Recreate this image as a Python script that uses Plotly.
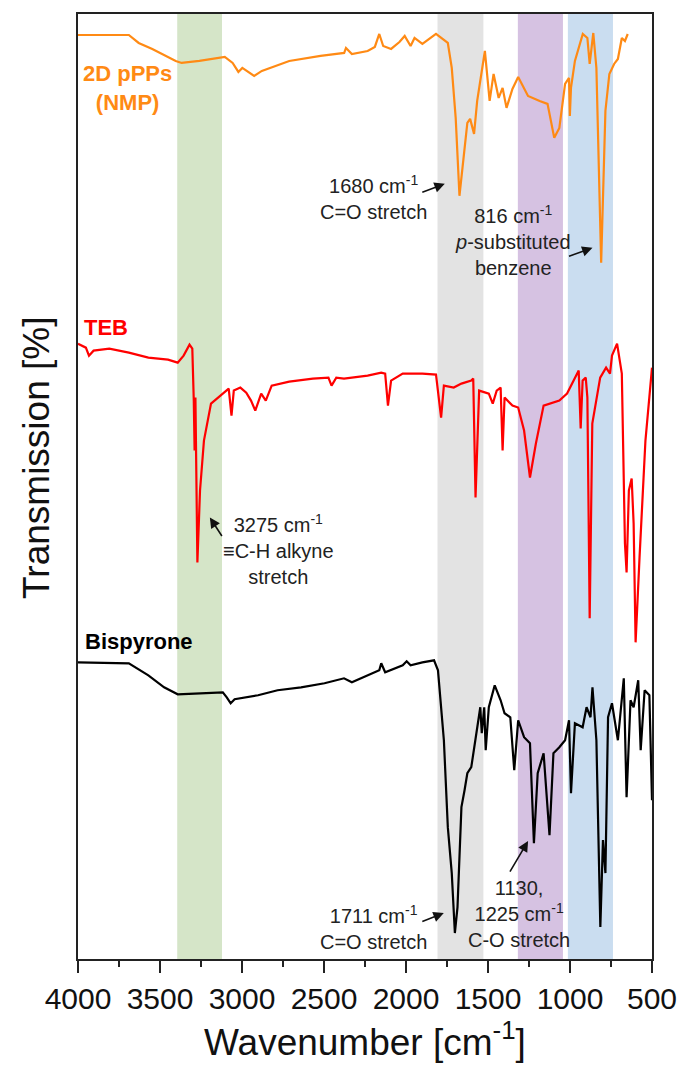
import plotly.graph_objects as go

# ---------------- data (arbitrary offset transmission units) ----------------
pPPs_wn = [4000, 3690, 3630, 3547, 3404, 3368, 3260, 3105, 3057, 3022, 2998, 2926, 2879, 2712, 2521,
           2377, 2366, 2330, 2234, 2190, 2163, 2139, 2091, 2040, 2008, 1972, 1948, 1900, 1817, 1745, 1721, 1697,
           1674, 1650, 1626, 1609, 1585, 1566, 1519, 1490, 1466, 1435, 1411, 1387, 1351, 1316, 1256,
           1185, 1137, 1096, 1065, 1030, 1006, 1001, 994, 970, 922, 894, 880, 858, 839, 810, 784,
           760, 731, 708, 684, 665, 648]
pPPs_T = [925, 925, 917, 911, 899, 897, 899, 903, 897, 888, 892, 884, 889, 899, 904,
          907, 912, 906, 909, 913, 926, 914, 911, 918, 924, 914, 922, 916, 926, 917, 892, 842,
          764, 799, 837, 841, 826, 859, 909, 859, 886, 862, 872, 852, 871, 883, 864,
          859, 856, 822, 832, 876, 882, 844, 872, 899, 926, 922, 896, 927, 892, 697, 849,
          886, 896, 901, 922, 919, 926]

teb_wn = [4000, 3952, 3933, 3905, 3809, 3690, 3571, 3451, 3392, 3356, 3320, 3303, 3294, 3289, 3284,
          3272, 3256, 3232, 3189, 3129, 3081, 3064, 3050, 3010, 2974, 2945, 2919, 2883, 2855, 2819,
          2712, 2568, 2473, 2454, 2425, 2378, 2234, 2151, 2127, 2110, 2091, 2020, 1900, 1817, 1800,
          1786, 1769, 1709, 1662, 1602, 1590, 1576, 1554, 1495, 1471, 1447, 1423, 1411, 1399, 1351,
          1316, 1280, 1244, 1208, 1161, 1065, 1018, 947, 935, 923, 904, 894, 880, 864, 816,
          780, 756, 744, 713, 684, 665, 655, 641, 624, 612, 600, 576, 540, 500]
teb_T = [616, 612, 604, 609, 611, 607, 602, 600, 597, 604, 615, 611, 559, 509, 562,
         397, 469, 519, 556, 564, 571, 544, 569, 572, 567, 559, 549, 566, 559, 574,
         578, 581, 582, 574, 582, 581, 584, 587, 586, 554, 579, 586, 586, 585, 562,
         542, 574, 572, 576, 579, 581, 462, 569, 566, 556, 569, 572, 509, 562, 554,
         552, 529, 482, 516, 554, 559, 566, 589, 531, 579, 582, 562, 341, 536, 582,
         592, 586, 604, 616, 586, 416, 387, 469, 481, 436, 317, 402, 519, 592]

bis_wn = [4000, 3690, 3571, 3475, 3392, 3260, 3117, 3093, 3069, 3045, 2902, 2783, 2640, 2497, 2378,
          2330, 2234, 2163, 2151, 2127, 2020, 1996, 1972, 1900, 1829, 1805, 1769, 1745, 1721, 1702,
          1686, 1662, 1643, 1626, 1602, 1566, 1547, 1538, 1523, 1514, 1495, 1459, 1423, 1399, 1364,
          1340, 1316, 1280, 1244, 1220, 1197, 1161, 1142, 1125, 1101, 1065, 1030, 1006, 994, 970,
          923, 899, 875, 863, 839, 815, 799, 784, 768, 744, 708, 672, 655, 631, 612,
          584, 569, 545, 516, 500]
bis_T = [297, 296, 284, 272, 265, 266, 267, 262, 256, 260, 264, 269, 272, 276, 281,
         277, 284, 289, 296, 287, 294, 298, 294, 297, 299, 289, 219, 132, 86, 26,
         52, 152, 169, 186, 192, 232, 252, 226, 252, 209, 252, 274, 259, 246, 242,
         189, 239, 222, 216, 116, 186, 206, 162, 124, 206, 212, 219, 239, 166, 236,
         232, 252, 242, 272, 219, 32, 119, 86, 242, 256, 219, 281, 162, 259, 252,
         279, 209, 269, 264, 159]

band_ranges = [(3395, 3122), (1808, 1528), (1318, 1043), (1013, 738)]
band_colors = ["#D5E5C8", "#E3E3E3", "#D6C2E2", "#CADDF0"]

x_tickvals = [4000, 3500, 3000, 2500, 2000, 1500, 1000, 500]

# ---------------- figure ----------------
W, H = 689, 1075
L, R, T, B = 78, 657, 13, 959


def px(xp):
    return (xp - L) / (R - L)


def py(yp):
    return (B - yp) / (B - T)


fig = go.Figure()
fig.add_trace(go.Scatter(x=pPPs_wn, y=pPPs_T, mode="lines", line=dict(color="#FF8A14", width=2.2),
                         showlegend=False))
fig.add_trace(go.Scatter(x=teb_wn, y=teb_T, mode="lines", line=dict(color="#FF0000", width=2.2),
                         showlegend=False))
fig.add_trace(go.Scatter(x=bis_wn, y=bis_T, mode="lines", line=dict(color="#000000", width=2.2),
                         showlegend=False))

for (a, b), c in zip(band_ranges, band_colors):
    fig.add_vrect(x0=a, x1=b, fillcolor=c, opacity=1, line_width=0, layer="below")

FONT = "Liberation Sans, Arial, sans-serif"
ann = []
# series labels
ann.append(dict(x=px(128), y=py(87), xref="paper", yref="paper", text="<b>2D pPPs<br>(NMP)</b>",
                showarrow=False, font=dict(size=22, color="#FF8A14", family=FONT), align="center",
                xanchor="center", yanchor="middle"))
ann.append(dict(x=px(106), y=py(327), xref="paper", yref="paper", text="<b>TEB</b>",
                showarrow=False, font=dict(size=22, color="#FF0000", family=FONT),
                xanchor="center", yanchor="middle"))
ann.append(dict(x=px(140), y=py(641), xref="paper", yref="paper", text="<b>Bispyrone</b>",
                showarrow=False, font=dict(size=22, color="#000000", family=FONT),
                xanchor="center", yanchor="middle"))

# peak texts
tfont = dict(size=20, color="#222222", family=FONT)
texts = [
    (376, 197, "1680 cm<sup>-1</sup><br>C=O stretch"),
    (517, 240, "816 cm<sup>-1</sup><br><i>p</i>-substituted<br>benzene"),
    (280, 549, "3275 cm<sup>-1</sup><br>≡C-H alkyne<br>stretch"),
    (376, 927, "1711 cm<sup>-1</sup><br>C=O stretch"),
    (523, 914, "1130,<br>1225 cm<sup>-1</sup><br>C-O stretch"),
]
for xp, yp, t in texts:
    ann.append(dict(x=px(xp), y=py(yp), xref="paper", yref="paper", text=t, showarrow=False,
                    font=tfont, align="center", xanchor="center", yanchor="middle"))

# arrows (head, tail in pixels)
arrows = [((448, 183), (424, 192)), ((597, 247), (572, 256)), ((211, 517), (224, 537)),
          ((447, 913), (424, 922)), ((532, 841), (513, 873))]
for (hx, hy), (tx, ty) in arrows:
    ann.append(dict(x=px(hx), y=py(hy), xref="paper", yref="paper", ax=tx - hx, ay=ty - hy,
                    axref="pixel", ayref="pixel", text="", showarrow=True, arrowhead=2,
                    arrowsize=1.3, arrowwidth=1.6, arrowcolor="#111111"))

# axis titles
ann.append(dict(x=px(36), y=py(457), xref="paper", yref="paper", text="Transmission [%]",
                textangle=-90, showarrow=False, font=dict(size=37, color="#111111", family=FONT),
                xanchor="center", yanchor="middle"))
ann.append(dict(x=px(367), y=py(1040), xref="paper", yref="paper", text="Wavenumber [cm<sup>-1</sup>]",
                showarrow=False, font=dict(size=37, color="#111111", family=FONT),
                xanchor="center", yanchor="middle"))

fig.update_layout(
    width=W, height=H, margin=dict(l=L, r=W - R, t=T, b=H - B),
    paper_bgcolor="white", plot_bgcolor="white", annotations=ann,
    font=dict(family=FONT, color="#111111"),
)
fig.update_xaxes(range=[4000, 500], tickvals=x_tickvals, ticks="outside", ticklen=12, tickwidth=2,
                 tickcolor="#222222", showline=True, linecolor="#222222", linewidth=2, mirror=True,
                 showgrid=False, zeroline=False, tickfont=dict(size=30, color="#111111", family=FONT),
                 minor=dict(dtick=250, tick0=500, ticks="outside", ticklen=6, tickwidth=2,
                            tickcolor="#222222", showgrid=False))
fig.update_yaxes(range=[0, 946], showticklabels=False, ticks="", showline=True, linecolor="#222222",
                 linewidth=2, mirror=True, showgrid=False, zeroline=False)

fig.write_html("out.html")
